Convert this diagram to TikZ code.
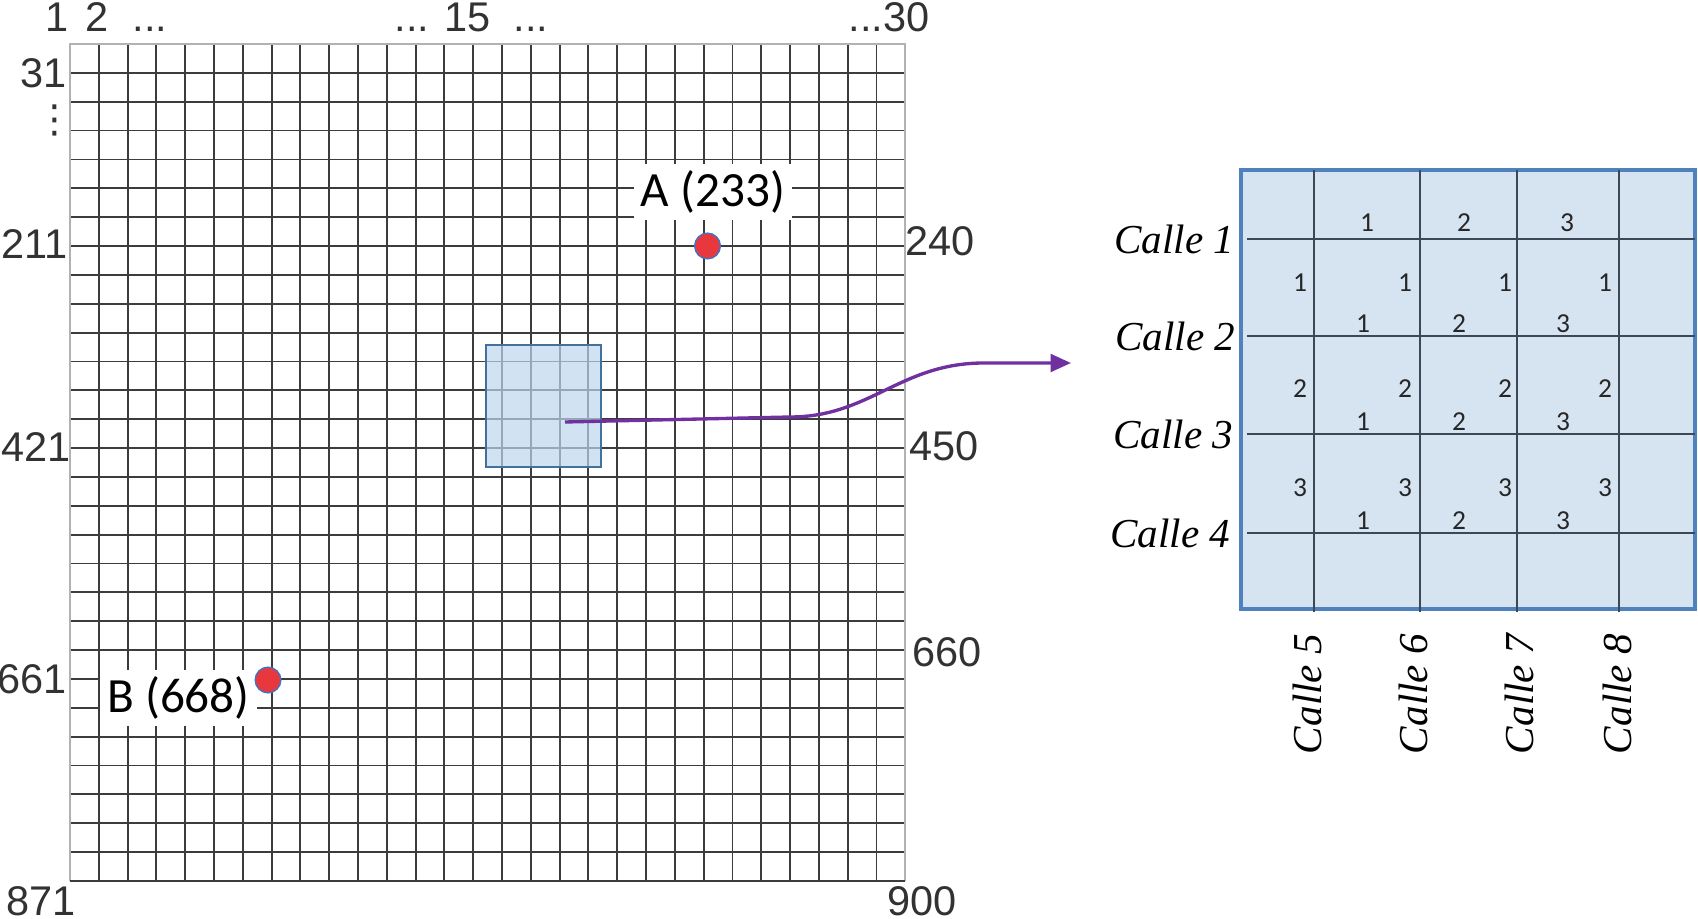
\documentclass[tikz,border=0pt]{standalone}
\usepackage{fontspec}
\setmainfont{Liberation Sans}
\newfontfamily\calfont{Carlito}
\newfontfamily\callefont{Liberation Serif}
\newfontfamily\symfont{DejaVu Sans}
\usepackage{tikz}
\usetikzlibrary{arrows.meta}
\definecolor{gridgray}{RGB}{60,60,60}
\definecolor{labelgray}{RGB}{50,50,50}
\definecolor{boxblue}{RGB}{214,228,242}
\definecolor{edgeblue}{RGB}{79,129,189}
\definecolor{lineslate}{RGB}{60,72,85}
\definecolor{dotred}{RGB}{232,56,62}
\definecolor{dotblue}{RGB}{68,114,196}
\definecolor{arrowpurple}{RGB}{112,48,160}
\definecolor{zoomfill}{RGB}{189,215,238}
\definecolor{zoomedge}{RGB}{65,113,156}
\tikzset{
  gridlab/.style={inner sep=0pt, text=labelgray, font=\fontsize{11.8}{13}\selectfont},
  pointlab/.style={fill=white, inner sep=2pt, font=\calfont\fontsize{14}{16}\selectfont},
  num/.style={inner sep=0pt, text=black!85, font=\calfont\fontsize{7.8}{9}\selectfont},
  calle/.style={inner sep=0pt, font=\callefont\itshape\fontsize{11.7}{14}\selectfont},
  reddot/.style={circle, inner sep=0pt, minimum size=7.3pt, fill=dotred, draw=dotblue, line width=0.4pt}
}

\begin{document}
\begin{tikzpicture}[x=0.01cm,y=-0.01cm]
\useasboundingbox (0,0) rectangle (1698,919);

% Grid 29 x 29
\foreach \i in {1,...,28}{
  \draw[gridgray, line width=0.52pt] ({70+28.8*\i},44) -- ({70+28.8*\i},880.9);
  \draw[gridgray, line width=0.52pt] (70,{44+28.86*\i}) -- (905.2,{44+28.86*\i});
}
\draw[gray!60, line width=0.52pt] (70,880.9) -- (70,44) -- (905.2,44) -- (905.2,880.9);
\draw[gridgray, line width=0.52pt] (70,880.9) -- (905.2,880.9);

% column numbers
\node[gridlab, anchor=base] (t1) at (57,32) {1};
\node[gridlab, anchor=base] (t2) at (97,32) {2};
\node[gridlab, anchor=base] (tdotsa) at (150,32) {...};
\node[gridlab, anchor=base] (tdotsb) at (412,32) {...};
\node[gridlab, anchor=base] (t15) at (467.5,32) {15};
\node[gridlab, anchor=base] (tdotsc) at (531,32) {...};
\node[gridlab, anchor=base] (t30) at (889,32) {...30};

% row numbers, left
\node[gridlab, anchor=east] (l31) at (67,72.9) {31};
\node[gridlab, anchor=base, font=\symfont\fontsize{11}{12}\selectfont] (ldots) at (55,133) {⋮};
\node[gridlab, anchor=east] (l211) at (68,244) {211};
\node[gridlab, anchor=east] (l421) at (71,447) {421};
\node[gridlab, anchor=east] (l661) at (67.5,679) {661};
\node[gridlab, anchor=east] (l871) at (76,901) {871};

% row numbers, right
\node[gridlab, anchor=west] (r240) at (905,241) {240};
\node[gridlab, anchor=west] (r450) at (909,446) {450};
\node[gridlab, anchor=west] (r660) at (912,652) {660};
\node[gridlab, anchor=west] (r900) at (887,901) {900};

% zoomed area
\draw[zoomedge, line width=0.8pt, fill=zoomfill, fill opacity=0.7] (486,345) rectangle (601,467);

% points A and B
\node[pointlab] (labA) at (713,192) {A (233)};
\node[reddot] (ptA) at (707.5,246) {};
\node[pointlab] (labB) at (178.5,698) {B (668)};
\node[reddot] (ptB) at (268,680) {};

% arrow to the detail
\coordinate (arrS) at (565,422);
\coordinate (arrE) at (1071,363);
\draw[arrowpurple, line width=0.95pt, -{Triangle[length=5.8pt,width=5pt]}]
      (arrS) -- (790,417) .. controls (870,417) and (900,363) .. (984,363) -- (arrE);

% detail box
\draw[edgeblue, line width=1pt, fill=boxblue] (1241,170) rectangle (1695,609);
\foreach \y in {239,336,434,533}
  \draw[lineslate, line width=0.6pt] (1247,\y) -- (1695,\y);
\foreach \x in {1313.6,1419.6,1517,1618.7}
  \draw[lineslate, line width=0.6pt] (\x,170) -- (\x,612);

% street names
\foreach \n/\y/\x in {1/239/1235, 2/336/1236, 3/434/1234, 4/533/1231}
  \node[calle, anchor=east] (c\n) at (\x,\y) {Calle \n};
\foreach \n/\x in {5/1307, 6/1413, 7/1519, 8/1617}
  \node[calle, rotate=90] (c\n) at (\x,694) {Calle \n};

% numbering inside the blocks
\foreach \w/\x in {1/1367, 2/1464, 3/1567}
  \node[num] (top\w) at (\x,223) {\w};
\foreach \v/\yu/\yl in {1/283/324, 2/389/422, 3/488/521}{
  \foreach \x [count=\k] in {1300,1405,1505,1605}
    \node[num] (u\v\k) at (\x,\yu) {\v};
  \foreach \w/\x in {1/1363, 2/1459, 3/1563}
    \node[num] (d\v\w) at (\x,\yl) {\w};
}

\end{tikzpicture}
\end{document}
